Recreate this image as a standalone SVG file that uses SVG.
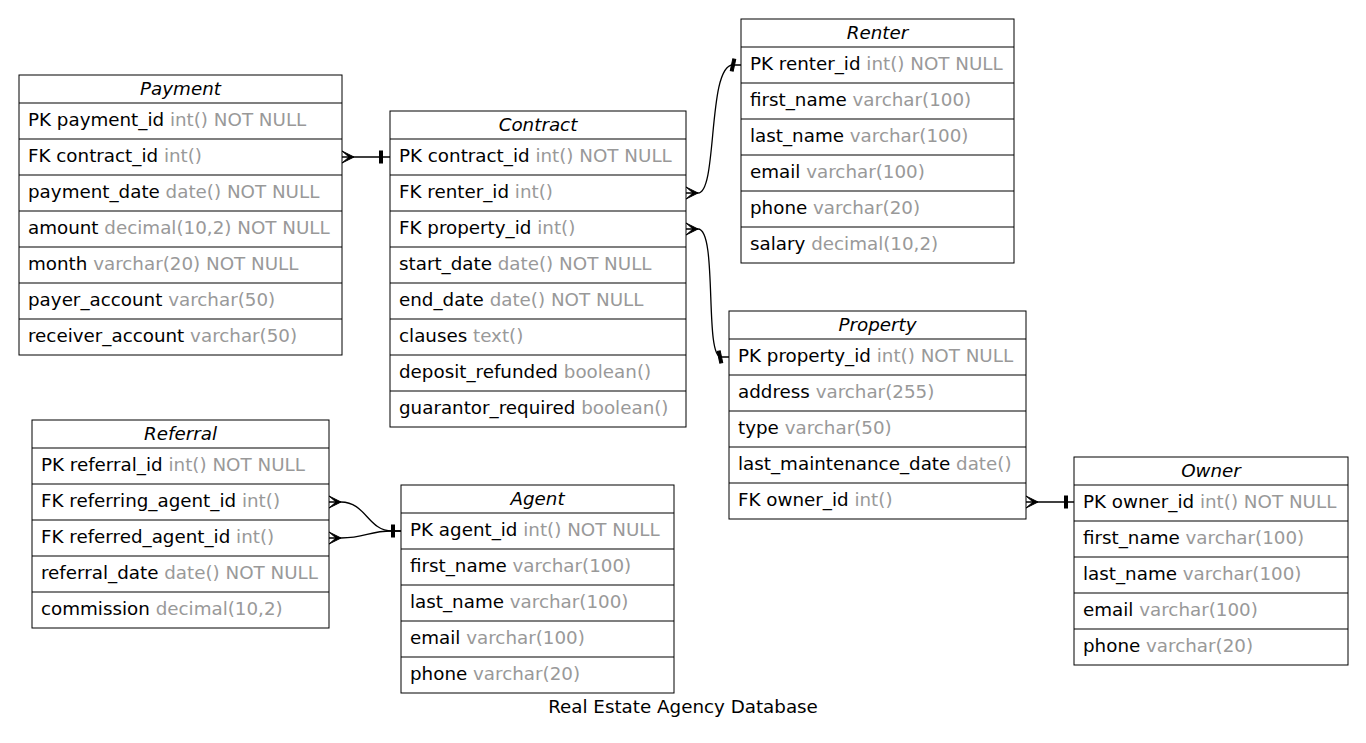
<svg xmlns="http://www.w3.org/2000/svg" xmlns:xlink="http://www.w3.org/1999/xlink" width="1366" height="743" viewBox="0 0 1366 743">
<style>
.t{font-family:"DejaVu Sans","Noto Sans",sans-serif;font-size:18.3px;fill:#000}
.g{fill:#999999}
.h{font-style:italic;text-anchor:middle}
.box{fill:#fff;stroke:#000;stroke-width:1}
.sep{stroke:#000;stroke-width:1.2;fill:none}
.edge{fill:none;stroke:#000;stroke-width:1.3}
.mk{fill:#000;stroke:#000;stroke-width:1}
</style>
<defs>
<path id="crow" d="M0,-6 L12,0 L0,6 L7,0 Z"/>
<rect id="tee" x="-1.5" y="-6" width="3" height="12"/>
</defs>
<rect width="1366" height="743" fill="#fff"/>

<g id="connectors">
  <g id="e-payment-contract">
    <path class="edge" d="M342,157 L390,157"/>
    <use href="#crow" xlink:href="#crow" class="mk" transform="translate(342,157)"/>
    <use href="#tee" xlink:href="#tee" class="mk" transform="translate(381,157)"/>
  </g>
  <g id="e-contract-renter">
    <path class="edge" d="M686,193 L698,193 C718,193 707,65 733,65 L741,65"/>
    <use href="#crow" xlink:href="#crow" class="mk" transform="translate(686,193)"/>
    <use href="#tee" xlink:href="#tee" class="mk" transform="translate(733,65) rotate(12)"/>
  </g>
  <g id="e-contract-property">
    <path class="edge" d="M686,229 L698,229 C718,229 704,357 721,357 L729,357"/>
    <use href="#crow" xlink:href="#crow" class="mk" transform="translate(686,229)"/>
    <use href="#tee" xlink:href="#tee" class="mk" transform="translate(720,357) rotate(-12)"/>
  </g>
  <g id="e-property-owner">
    <path class="edge" d="M1026,502 L1074,502"/>
    <use href="#crow" xlink:href="#crow" class="mk" transform="translate(1026,502)"/>
    <use href="#tee" xlink:href="#tee" class="mk" transform="translate(1066,502)"/>
  </g>
  <g id="e-referring-agent">
    <path class="edge" d="M329,502 L341,502 C366,502 368,531 392,531 L401,531"/>
    <use href="#crow" xlink:href="#crow" class="mk" transform="translate(329,502)"/>
  </g>
  <g id="e-referred-agent">
    <path class="edge" d="M329,538 L341,538 C366,538 368,531 392,531 L401,531"/>
    <use href="#crow" xlink:href="#crow" class="mk" transform="translate(329,538)"/>
    <use href="#tee" xlink:href="#tee" class="mk" transform="translate(393,531)"/>
  </g>
</g>

<g id="payment">
  <rect class="box" x="19" y="75" width="323" height="280"/>
  <path class="sep" d="M19,103H342M19,139H342M19,175H342M19,211H342M19,247H342M19,283H342M19,319H342"/>
  <text class="t h" x="180.5" y="95">Payment</text>
  <text class="t" x="28" y="126">PK payment_id <tspan class="g">int() NOT NULL</tspan></text>
  <text class="t" x="28" y="162">FK contract_id <tspan class="g">int()</tspan></text>
  <text class="t" x="28" y="198">payment_date <tspan class="g">date() NOT NULL</tspan></text>
  <text class="t" x="28" y="234">amount <tspan class="g">decimal(10,2) NOT NULL</tspan></text>
  <text class="t" x="28" y="270">month <tspan class="g">varchar(20) NOT NULL</tspan></text>
  <text class="t" x="28" y="306">payer_account <tspan class="g">varchar(50)</tspan></text>
  <text class="t" x="28" y="342">receiver_account <tspan class="g">varchar(50)</tspan></text>
</g>

<g id="contract">
  <rect class="box" x="390" y="111" width="296" height="316"/>
  <path class="sep" d="M390,139H686M390,175H686M390,211H686M390,247H686M390,283H686M390,319H686M390,355H686M390,391H686"/>
  <text class="t h" x="538" y="131">Contract</text>
  <text class="t" x="399" y="162">PK contract_id <tspan class="g">int() NOT NULL</tspan></text>
  <text class="t" x="399" y="198">FK renter_id <tspan class="g">int()</tspan></text>
  <text class="t" x="399" y="234">FK property_id <tspan class="g">int()</tspan></text>
  <text class="t" x="399" y="270">start_date <tspan class="g">date() NOT NULL</tspan></text>
  <text class="t" x="399" y="306">end_date <tspan class="g">date() NOT NULL</tspan></text>
  <text class="t" x="399" y="342">clauses <tspan class="g">text()</tspan></text>
  <text class="t" x="399" y="378">deposit_refunded <tspan class="g">boolean()</tspan></text>
  <text class="t" x="399" y="414">guarantor_required <tspan class="g">boolean()</tspan></text>
</g>

<g id="renter">
  <rect class="box" x="741" y="19" width="273" height="244"/>
  <path class="sep" d="M741,47H1014M741,83H1014M741,119H1014M741,155H1014M741,191H1014M741,227H1014"/>
  <text class="t h" x="877.5" y="39">Renter</text>
  <text class="t" x="750" y="70">PK renter_id <tspan class="g">int() NOT NULL</tspan></text>
  <text class="t" x="750" y="106">first_name <tspan class="g">varchar(100)</tspan></text>
  <text class="t" x="750" y="142">last_name <tspan class="g">varchar(100)</tspan></text>
  <text class="t" x="750" y="178">email <tspan class="g">varchar(100)</tspan></text>
  <text class="t" x="750" y="214">phone <tspan class="g">varchar(20)</tspan></text>
  <text class="t" x="750" y="250">salary <tspan class="g">decimal(10,2)</tspan></text>
</g>

<g id="property">
  <rect class="box" x="729" y="311" width="297" height="208"/>
  <path class="sep" d="M729,339H1026M729,375H1026M729,411H1026M729,447H1026M729,483H1026"/>
  <text class="t h" x="877.5" y="331">Property</text>
  <text class="t" x="738" y="362">PK property_id <tspan class="g">int() NOT NULL</tspan></text>
  <text class="t" x="738" y="398">address <tspan class="g">varchar(255)</tspan></text>
  <text class="t" x="738" y="434">type <tspan class="g">varchar(50)</tspan></text>
  <text class="t" x="738" y="470">last_maintenance_date <tspan class="g">date()</tspan></text>
  <text class="t" x="738" y="506">FK owner_id <tspan class="g">int()</tspan></text>
</g>

<g id="owner">
  <rect class="box" x="1074" y="457" width="274" height="208"/>
  <path class="sep" d="M1074,485H1348M1074,521H1348M1074,557H1348M1074,593H1348M1074,629H1348"/>
  <text class="t h" x="1211" y="477">Owner</text>
  <text class="t" x="1083" y="508">PK owner_id <tspan class="g">int() NOT NULL</tspan></text>
  <text class="t" x="1083" y="544">first_name <tspan class="g">varchar(100)</tspan></text>
  <text class="t" x="1083" y="580">last_name <tspan class="g">varchar(100)</tspan></text>
  <text class="t" x="1083" y="616">email <tspan class="g">varchar(100)</tspan></text>
  <text class="t" x="1083" y="652">phone <tspan class="g">varchar(20)</tspan></text>
</g>

<g id="referral">
  <rect class="box" x="32" y="420" width="297" height="208"/>
  <path class="sep" d="M32,448H329M32,484H329M32,520H329M32,556H329M32,592H329"/>
  <text class="t h" x="180.5" y="440">Referral</text>
  <text class="t" x="41" y="471">PK referral_id <tspan class="g">int() NOT NULL</tspan></text>
  <text class="t" x="41" y="507">FK referring_agent_id <tspan class="g">int()</tspan></text>
  <text class="t" x="41" y="543">FK referred_agent_id <tspan class="g">int()</tspan></text>
  <text class="t" x="41" y="579">referral_date <tspan class="g">date() NOT NULL</tspan></text>
  <text class="t" x="41" y="615">commission <tspan class="g">decimal(10,2)</tspan></text>
</g>

<g id="agent">
  <rect class="box" x="401" y="485" width="273" height="208"/>
  <path class="sep" d="M401,513H674M401,549H674M401,585H674M401,621H674M401,657H674"/>
  <text class="t h" x="537.5" y="505">Agent</text>
  <text class="t" x="410" y="536">PK agent_id <tspan class="g">int() NOT NULL</tspan></text>
  <text class="t" x="410" y="572">first_name <tspan class="g">varchar(100)</tspan></text>
  <text class="t" x="410" y="608">last_name <tspan class="g">varchar(100)</tspan></text>
  <text class="t" x="410" y="644">email <tspan class="g">varchar(100)</tspan></text>
  <text class="t" x="410" y="680">phone <tspan class="g">varchar(20)</tspan></text>
</g>

<text class="t" x="683" y="713" text-anchor="middle">Real Estate Agency Database</text>
</svg>
